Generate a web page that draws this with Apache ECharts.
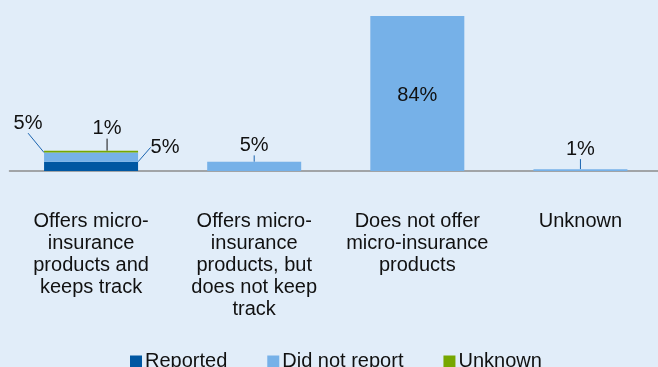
<!DOCTYPE html>
<html>
<head>
<meta charset="utf-8">
<script src="https://cdn.jsdelivr.net/npm/echarts@6/dist/echarts.min.js"></script>
<style>
    html, body { margin: 0; padding: 0; background: #E1EDF9; overflow: hidden; }
    #chart { width: 662px; height: 367px; }
</style>
</head>
<body>
<div id="chart"></div>
<script>
// 数据
var categories = [
    'Offers micro-\ninsurance\nproducts and\nkeeps track',
    'Offers micro-\ninsurance\nproducts, but\ndoes not keep\ntrack',
    'Does not offer\nmicro-insurance\nproducts',
    'Unknown'
];
var reported = [5, null, null, null];
var didNotReport = [5, 5, 84, 1];
var unknown = [1, null, null, null];

// 标签偏移 (相对柱子中心)
var labelShift = {
    'Reported': [[74, -19]],
    'Did not report': [[-63, -34], [0, -21], [0, 2], [0, -21]],
    'Unknown': [[16, -23]]
};

var chart = echarts.init(document.getElementById('chart'));
var font = 'Liberation Sans, Arial, sans-serif';

function makeSeries(name, values, color, lineColor) {
    return {
        name: name,
        type: 'bar',
        stack: 'total',
        barWidth: 94,
        data: values.map(function (v, i) {
            var item = { value: v };
            if (name === 'Did not report' && i === 2) {
                item.labelLine = { show: false };
            }
            return item;
        }),
        itemStyle: { color: color },
        label: {
            show: true,
            position: 'inside',
            formatter: '{c}%',
            fontFamily: font,
            fontSize: 20,
            color: '#111'
        },
        labelLine: {
            show: true,
            lineStyle: { color: lineColor, width: 1 }
        },
        labelLayout: function (params) {
            var s = labelShift[name][params.dataIndex] || [0, 0];
            return { dx: s[0], dy: s[1] };
        }
    };
}

var option = {
    backgroundColor: '#E1EDF9',
    animation: false,
    grid: { left: 9.5, right: 0, top: 16, bottom: 196 },
    legend: {
        left: 125,
        top: 346.5,
        icon: 'rect',
        itemWidth: 12,
        itemHeight: 12,
        itemGap: 40,
        textStyle: { fontFamily: font, fontSize: 20, color: '#111', padding: [0, 0, 0, -2] },
        data: ['Reported', 'Did not report', 'Unknown']
    },
    xAxis: {
        type: 'category',
        data: categories,
        axisLine: { lineStyle: { color: '#8C8C8C', width: 1.5 } },
        axisTick: { show: false },
        axisLabel: {
            interval: 0,
            margin: 39,
            fontFamily: font,
            fontSize: 20,
            lineHeight: 22,
            color: '#111',
            align: 'center'
        }
    },
    yAxis: {
        type: 'value',
        min: 0,
        max: 84,
        show: false,
        splitLine: { show: false }
    },
    series: [
        makeSeries('Reported', reported, '#0057A2', '#1A64B0'),
        makeSeries('Did not report', didNotReport, '#76B1E8', '#1A64B0'),
        makeSeries('Unknown', unknown, '#76A700', '#111')
    ]
};
chart.setOption(option);
</script>
</body>
</html>
